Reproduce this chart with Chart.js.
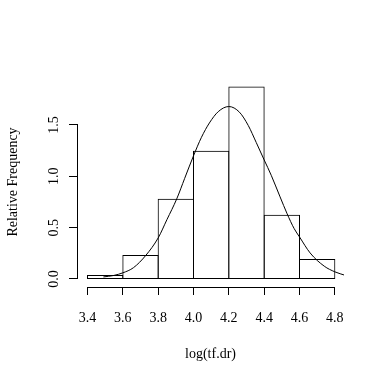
<!DOCTYPE html>
<html><head><meta charset="utf-8">
<script src="https://cdn.jsdelivr.net/npm/chart.js@4"></script>
<style>html,body{margin:0;padding:0;background:#fff;overflow:hidden;} #wrap{width:384px;height:383px;}</style>
</head><body>
<div id="wrap"><canvas id="c" width="384" height="383"></canvas></div>
<script>
// ---- data ----
const binCenters = [3.5, 3.7, 3.9, 4.1, 4.3, 4.5, 4.7];
const binDensity = [0.039, 0.234, 0.781, 1.25, 1.875, 0.625, 0.195];
const curveX = [3.49, 3.55, 3.60, 3.66, 3.73, 3.80, 3.85, 3.905, 3.95, 4.00, 4.045, 4.09, 4.14, 4.20, 4.26, 4.31, 4.355, 4.40, 4.44, 4.49, 4.53, 4.57, 4.60, 4.66, 4.74, 4.80, 4.86];
const curveY = [0.02, 0.035, 0.06, 0.11, 0.23, 0.40, 0.58, 0.78, 0.98, 1.20, 1.38, 1.52, 1.63, 1.68, 1.625, 1.495, 1.33, 1.16, 1.01, 0.80, 0.635, 0.49, 0.41, 0.254, 0.125, 0.07, 0.035];
const xTicks = [3.4, 3.6, 3.8, 4.0, 4.2, 4.4, 4.6, 4.8];
const xTickLabels = ['3.4', '3.6', '3.8', '4.0', '4.2', '4.4', '4.6', '4.8'];
const yTicks = [0, 0.5, 1.0, 1.5];
const yTickLabels = ['0.0', '0.5', '1.0', '1.5'];
const xTitle = 'log(tf.dr)';
const yTitle = 'Relative Frequency';

const FONT = '14px "Liberation Serif", "Times New Roman", serif';

const rAxes = {
  id: 'rAxes',
  afterDraw(chart) {
    const {ctx, chartArea} = chart;
    const xs = chart.scales.x, ys = chart.scales.y;
    const xp = v => Math.floor(xs.getPixelForValue(v)) + 0.5;
    const yp = v => Math.ceil(ys.getPixelForValue(v)) - 0.5;
    ctx.save();
    ctx.strokeStyle = '#000';
    ctx.fillStyle = '#000';
    ctx.lineWidth = 1;
    ctx.beginPath();
    // x axis
    const ay = chartArea.bottom + 0.5;
    ctx.moveTo(xp(xTicks[0]) - 0.5, ay);
    ctx.lineTo(xp(xTicks[xTicks.length - 1]) + 0.5, ay);
    xTicks.forEach(v => { ctx.moveTo(xp(v), ay - 0.5); ctx.lineTo(xp(v), ay + 7.5); });
    // y axis
    const ax = chartArea.left + 0.5;
    ctx.moveTo(ax, yp(yTicks[yTicks.length - 1]) - 0.5);
    ctx.lineTo(ax, yp(yTicks[0]) + 0.5);
    yTicks.forEach(v => { ctx.moveTo(ax + 0.5, yp(v)); ctx.lineTo(ax - 8.5, yp(v)); });
    ctx.stroke();

    ctx.font = FONT;
    ctx.textBaseline = 'alphabetic';
    ctx.textAlign = 'center';
    xTicks.forEach((v, i) => ctx.fillText(xTickLabels[i], xs.getPixelForValue(v), chartArea.bottom + 35));
    yTicks.forEach((v, i) => {
      ctx.save();
      ctx.translate(chartArea.left - 19, ys.getPixelForValue(v));
      ctx.rotate(-Math.PI / 2);
      ctx.fillText(yTickLabels[i], 0, 0);
      ctx.restore();
    });
    ctx.fillText(xTitle, (chartArea.left + chartArea.right) / 2, chartArea.bottom + 71);
    ctx.save();
    ctx.translate(17, (chartArea.top + chartArea.bottom) / 2);
    ctx.rotate(-Math.PI / 2);
    ctx.fillText(yTitle, 0, 0);
    ctx.restore();
    ctx.restore();
  }
};

new Chart(document.getElementById('c'), {
  type: 'bar',
  data: {
    datasets: [
      {
        type: 'bar',
        data: binCenters.map((x, i) => ({x: x, y: binDensity[i]})),
        backgroundColor: 'rgba(0,0,0,0)',
        borderColor: '#000',
        borderWidth: 1,
        borderSkipped: false,
        // bars overlap by one pixel so neighbouring borders share one line
        barPercentage: 1.0283,
        categoryPercentage: 1
      },
      {
        type: 'line',
        data: curveX.map((x, i) => ({x: x, y: curveY[i]})),
        borderColor: '#000',
        borderWidth: 1,
        pointRadius: 0,
        fill: false,
        cubicInterpolationMode: 'monotone'
      }
    ]
  },
  options: {
    responsive: false,
    animation: false,
    devicePixelRatio: 1,
    layout: {padding: {left: 77, top: 77, right: 40, bottom: 96}},
    plugins: {legend: {display: false}, tooltip: {enabled: false}},
    scales: {
      x: {
        type: 'linear', display: false, offset: false,
        min: 3.34057, max: 4.85186,
        afterBuildTicks: a => { a.ticks = xTicks.map(v => ({value: v})); }
      },
      y: {
        type: 'linear', display: false,
        min: -0.077922, max: 1.96753
      }
    }
  },
  plugins: [rAxes]
});
</script>
</body></html>
